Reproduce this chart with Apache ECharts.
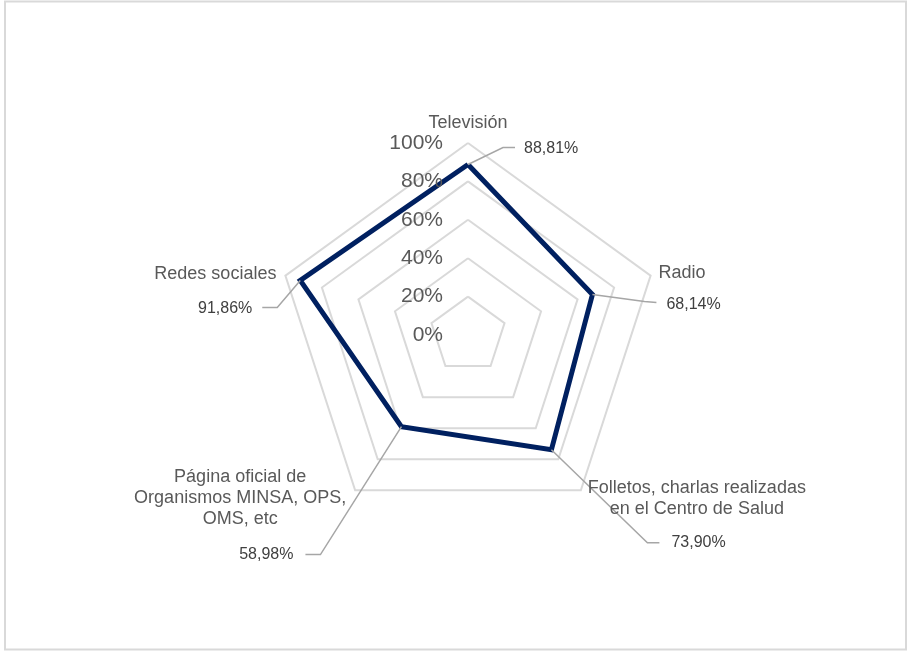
<!DOCTYPE html>
<html>
<head>
<meta charset="utf-8">
<script src="https://cdn.jsdelivr.net/npm/echarts@6/dist/echarts.min.js"></script>
<style>
	html, body { margin: 0; padding: 0; background: #fff; }
	#chart { width: 908px; height: 651px; }
</style>
</head>
<body>
<div id="chart"></div>
<script>
// data, listed counterclockwise from the top
// (the order ECharts radar lays its indicators out in)
let categories = [
	'Televisión',
	'Redes sociales',
	'Página oficial de\nOrganismos MINSA, OPS,\nOMS, etc',
	'Folletos, charlas realizadas\nen el Centro de Salud',
	'Radio',
];
let values = [88.81, 91.86, 58.98, 73.90, 68.14];
let axisMin = 0;
let axisMax = 100;
let axisStep = 20;

// placement of the names and value labels (pixels, relative to the marks)
let nameLayout = [
	{dx: 0, dy: -20, align: 'center'},
	{dx: -9, dy: -2, align: 'right'},
	{dx: -115, dy: 8, align: 'center'},
	{dx: 116, dy: 8, align: 'center'},
	{dx: 8, dy: -3, align: 'left'},
];
let labelLayout = [
	{elbow: [35, -17], end: [47, -17], text: [56, -16], align: 'left'},
	{elbow: [-23, 27], end: [-38, 27], text: [-48, 28], align: 'right'},
	{elbow: [-81, 128], end: [-96, 128], text: [-108, 128], align: 'right'},
	{elbow: [96, 93], end: [108, 93], text: [120, 93], align: 'left'},
	{elbow: [52, 7], end: [64, 8], text: [74, 10], align: 'left'},
];

let center = [468, 335];
let radius = 192;
let font = 'Liberation Sans, Arial, sans-serif';

let fmt = (v => v.toFixed(2).replace('.', ',') + '%');

let chart = echarts.init(document.getElementById('chart'));

chart.setOption({
	animation: false,
	backgroundColor: '#fff',
	graphic: [{
		type: 'rect',
		shape: {x: 5, y: 1.5, width: 901, height: 648},
		style: {fill: 'none', stroke: '#d9d9d9', lineWidth: 2},
		silent: true,
	}],
	radar: {
		center: center,
		radius: radius,
		startAngle: 90,
		splitNumber: 5,
		shape: 'polygon',
		indicator: categories.map(name => ({name: name, min: axisMin, max: axisMax})),
		axisName: {show: false},
		axisLine: {show: false},
		axisTick: {show: false},
		axisLabel: {show: false},
		splitArea: {show: false},
		splitLine: {lineStyle: {color: '#d9d9d9', width: 2}},
	},
	// hidden polar system laid over the radar, used for the % ticks and the labels
	polar: {
		center: center,
		radius: radius,
	},
	angleAxis: {
		type: 'category',
		data: categories,
		startAngle: 90,
		clockwise: false,
		boundaryGap: false,
		axisLine: {show: false},
		axisTick: {show: false},
		axisLabel: {show: false},
		splitLine: {show: false},
	},
	radiusAxis: {
		min: axisMin,
		max: axisMax,
		interval: axisStep,
		axisLine: {show: false},
		axisTick: {show: false},
		splitLine: {show: false},
		axisLabel: {
			show: true,
			margin: 25,
			formatter: '{value}%',
			color: '#595959',
			fontSize: 21,
			fontFamily: font,
		},
		z: 5,
	},
	series: [
		{
			type: 'radar',
			symbol: 'none',
			z: 3,
			lineStyle: {color: '#002060', width: 5, join: 'miter'},
			data: [{value: values}],
		},
		{
			type: 'custom',
			coordinateSystem: 'polar',
			z: 6,
			silent: true,
			data: values.map((v, i) => [v, i]),
			renderItem: (params, api) => {
				let i = params.dataIndex;
				let v = api.value(0);
				let pt = api.coord([v, i]);
				let outer = api.coord([axisMax, i]);
				let nl = nameLayout[i];
				let ll = labelLayout[i];
				let off = (d => [pt[0] + d[0], pt[1] + d[1]]);
				return {
					type: 'group',
					children: [
						{
							type: 'polyline',
							shape: {points: [pt, off(ll.elbow), off(ll.end)]},
							style: {stroke: '#a6a6a6', lineWidth: 1.5, fill: 'none'},
						},
						{
							type: 'text',
							style: {
								text: fmt(v),
								x: pt[0] + ll.text[0],
								y: pt[1] + ll.text[1],
								textAlign: ll.align,
								textVerticalAlign: 'middle',
								fill: '#404040',
								fontSize: 16,
								fontFamily: font,
							},
						},
						{
							type: 'text',
							style: {
								text: categories[i],
								x: outer[0] + nl.dx,
								y: outer[1] + nl.dy,
								textAlign: nl.align,
								textVerticalAlign: 'middle',
								fill: '#595959',
								fontSize: 18,
								lineHeight: 21,
								fontFamily: font,
							},
						},
					],
				};
			},
		},
	],
});
</script>
</body>
</html>
